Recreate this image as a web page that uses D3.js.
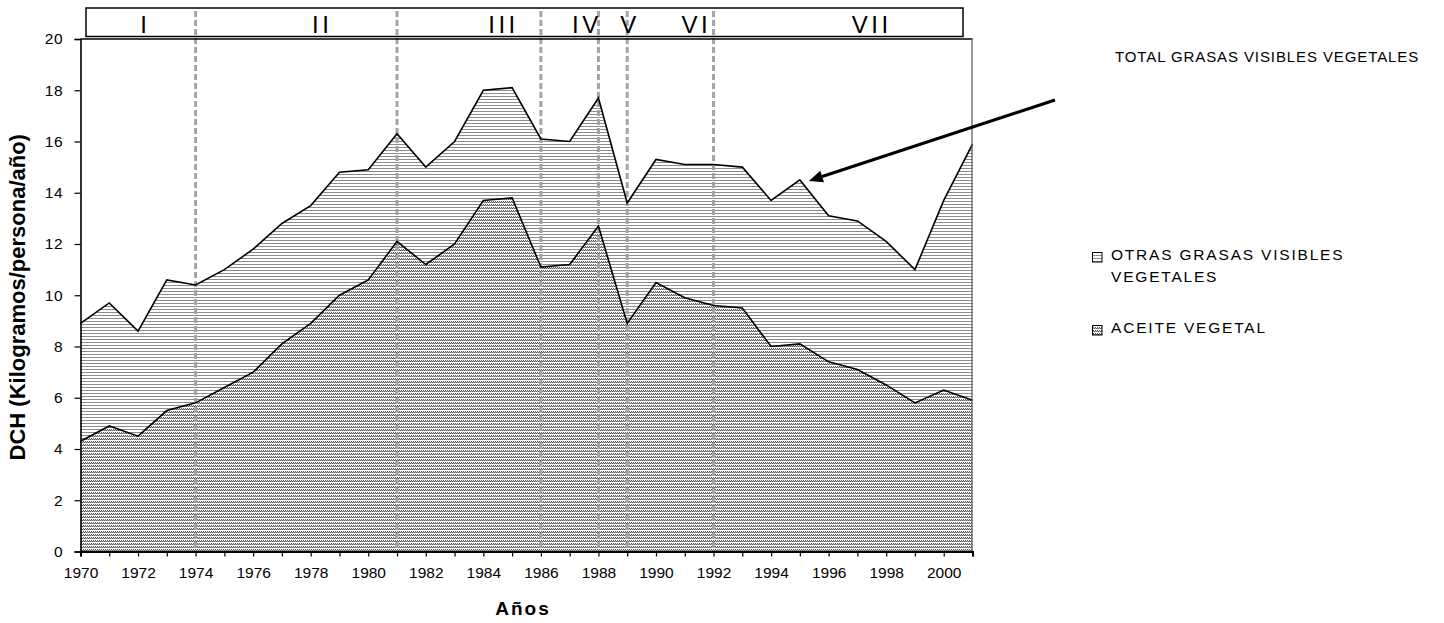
<!DOCTYPE html>
<html>
<head>
<meta charset="utf-8">
<script src="https://cdn.jsdelivr.net/npm/d3@7/dist/d3.min.js"></script>
<style>
  body { margin: 0; background: #fff; }
  svg { display: block; }
  text { font-family: "Liberation Sans", Arial, Helvetica, sans-serif; fill: #000; }
</style>
</head>
<body>
<svg id="chart" width="1444" height="623"></svg>
<script>
// Years covered by the series
const years = [1970, 1971, 1972, 1973, 1974, 1975, 1976, 1977, 1978, 1979,
               1980, 1981, 1982, 1983, 1984, 1985, 1986, 1987, 1988, 1989,
               1990, 1991, 1992, 1993, 1994, 1995, 1996, 1997, 1998, 1999,
               2000, 2001];

// Vegetable oil (kg/person/year)
const aceiteVegetal = [4.3, 4.9, 4.5, 5.5, 5.8, 6.4, 7.0, 8.1, 8.9, 10.0,
                       10.6, 12.1, 11.2, 12.0, 13.7, 13.8, 11.1, 11.2, 12.7, 8.9,
                       10.5, 9.9, 9.6, 9.5, 8.0, 8.1, 7.4, 7.1, 6.5, 5.8,
                       6.3, 5.9];

// Other visible vegetable fats (kg/person/year), stacked on top of the oil
const otrasGrasas = [4.6, 4.8, 4.1, 5.1, 4.6, 4.6, 4.8, 4.7, 4.6, 4.8,
                     4.3, 4.2, 3.8, 4.0, 4.3, 4.3, 5.0, 4.8, 5.0, 4.7,
                     4.8, 5.2, 5.5, 5.5, 5.7, 6.4, 5.7, 5.8, 5.6, 5.2,
                     7.4, 10.0];

// Period boundaries and period names
const periodBreaks = [1974, 1981, 1986, 1988, 1989, 1992];
const periodNames = ["I", "II", "III", "IV", "V", "VI", "VII"];
const periodNamePos = [1972.25, 1978.4, 1984.7, 1987.6, 1989.1, 1991.4, 1997.5];

// Axis ticks
const yTicks = [0, 2, 4, 6, 8, 10, 12, 14, 16, 18, 20];
const xLabelYears = [1970, 1972, 1974, 1976, 1978, 1980, 1982, 1984, 1986, 1988,
                     1990, 1992, 1994, 1996, 1998, 2000];

const seriesKeys = ["aceite", "otras"];
const seriesNames = { aceite: "ACEITE VEGETAL", otras: ["OTRAS GRASAS VISIBLES", "VEGETALES"] };
const totalLabel = "TOTAL GRASAS VISIBLES VEGETALES";
const annotatedYear = 1995;

// ---- layout ----
const plot = { left: 80.5, right: 972.5, top: 39, bottom: 551.5 };

const svg = d3.select("#chart");

const x = d3.scaleLinear().domain([1970, 2001]).range([plot.left, plot.right]);
const y = d3.scaleLinear().domain([0, 20]).range([plot.bottom, plot.top]);

const table = years.map((yr, i) => ({ year: yr, aceite: aceiteVegetal[i], otras: otrasGrasas[i] }));
const stacked = d3.stack().keys(seriesKeys)(table);

// ---- fill patterns ----
const defs = svg.append("defs");

// thin horizontal rules
const pHoriz = defs.append("pattern")
  .attr("id", "pat-otras").attr("patternUnits", "userSpaceOnUse")
  .attr("width", 4).attr("height", 3);
pHoriz.append("rect").attr("width", 4).attr("height", 3).attr("fill", "#fff");
pHoriz.append("rect").attr("y", 0).attr("width", 4).attr("height", 1).attr("fill", "#8c8c8c");

// rows of small upward slashes
const pDiag = defs.append("pattern")
  .attr("id", "pat-aceite").attr("patternUnits", "userSpaceOnUse")
  .attr("width", 2).attr("height", 3);
pDiag.append("rect").attr("width", 2).attr("height", 3).attr("fill", "#fff");
[[1, 0, "#5a5a5a"], [0, 1, "#5a5a5a"], [1, 1, "#a8a8a8"]].forEach(([px, py, c]) =>
  pDiag.append("rect").attr("x", px).attr("y", py).attr("width", 1).attr("height", 1)
    .attr("fill", c).attr("shape-rendering", "crispEdges"));

const fills = { aceite: "url(#pat-aceite)", otras: "url(#pat-otras)" };

// ---- stacked areas ----
const area = d3.area()
  .x(d => x(d.data.year))
  .y0(d => y(d[0]))
  .y1(d => y(d[1]));

svg.append("g").selectAll("path")
  .data(stacked)
  .join("path")
  .attr("d", area)
  .attr("fill", d => fills[d.key]);

// ---- period separators ----
const boxTop = 8, boxBottom = 36.5;
svg.append("g").selectAll("line")
  .data(periodBreaks)
  .join("line")
  .attr("x1", d => x(d)).attr("x2", d => x(d))
  .attr("y1", boxTop + 3).attr("y2", plot.bottom)
  .attr("stroke", "#a3a3a3")
  .attr("stroke-width", 3)
  .attr("stroke-dasharray", "6,3");

// ---- outlines of each stacked layer ----
const topLine = d3.line().x(d => x(d.data.year)).y(d => y(d[1]));
svg.append("g").selectAll("path")
  .data(stacked)
  .join("path")
  .attr("d", topLine)
  .attr("fill", "none")
  .attr("stroke", "#000")
  .attr("stroke-width", 1.6)
  .attr("stroke-linejoin", "miter");

// ---- plot frame (top and right) ----
svg.append("line")
  .attr("x1", plot.left).attr("x2", plot.right)
  .attr("y1", plot.top).attr("y2", plot.top)
  .attr("stroke", "#000").attr("stroke-width", 1.5);
svg.append("line")
  .attr("x1", plot.right - 0.5).attr("x2", plot.right - 0.5)
  .attr("y1", plot.top).attr("y2", plot.bottom)
  .attr("stroke", "#555").attr("stroke-width", 1.2);

// ---- period name box ----
svg.append("rect")
  .attr("x", 86).attr("y", boxTop)
  .attr("width", 877).attr("height", boxBottom - boxTop)
  .attr("fill", "none").attr("stroke", "#000").attr("stroke-width", 1.5);

svg.append("g").selectAll("text")
  .data(periodNames)
  .join("text")
  .attr("x", (d, i) => x(periodNamePos[i]))
  .attr("y", 33)
  .attr("text-anchor", "middle")
  .attr("font-size", 24)
  .attr("letter-spacing", 3.5)
  .text(d => d);

// ---- axes ----
const yAxis = d3.axisLeft(y).tickValues(yTicks).tickSize(6).tickPadding(11);
const gy = svg.append("g").attr("transform", `translate(${plot.left},0)`).call(yAxis);
gy.select(".domain").attr("stroke", "#000").attr("stroke-width", 1.6);
gy.selectAll(".tick line").attr("stroke", "#000").attr("stroke-width", 1.2);
gy.selectAll(".tick text").attr("font-size", 15.5).attr("letter-spacing", 0.8)
  .style("font-family", "'Liberation Sans', Arial, sans-serif");

const xAxis = d3.axisBottom(x)
  .tickValues(years)
  .tickSize(5).tickPadding(10)
  .tickFormat(d => xLabelYears.includes(d) ? String(d) : "");
const gx = svg.append("g").attr("transform", `translate(0,${plot.bottom})`).call(xAxis);
gx.select(".domain").attr("stroke", "#000").attr("stroke-width", 2);
gx.selectAll(".tick line").attr("stroke", "#000").attr("stroke-width", 1.2);
gx.selectAll(".tick text").attr("font-size", 15.5)
  .style("font-family", "'Liberation Sans', Arial, sans-serif");

// ---- axis titles ----
svg.append("text")
  .attr("transform", `translate(25,${(plot.top + plot.bottom) / 2 + 2}) rotate(-90)`)
  .attr("text-anchor", "middle")
  .attr("font-size", 22)
  .attr("font-weight", "bold")
  .text("DCH (Kilogramos/persona/año)");

svg.append("text")
  .attr("x", 523).attr("y", 615)
  .attr("text-anchor", "middle")
  .attr("font-size", 19)
  .attr("font-weight", "bold")
  .attr("letter-spacing", 2)
  .text("Años");

// ---- total annotation with arrow ----
const iAnn = years.indexOf(annotatedYear);
const tipX = x(annotatedYear) + 9;
const tipY = y(aceiteVegetal[iAnn] + otrasGrasas[iAnn]) + 1;
const tailX = 1055, tailY = 100;
const ang = Math.atan2(tipY - tailY, tipX - tailX);
const headLen = 14, headHalf = 6;
const baseX = tipX - headLen * Math.cos(ang), baseY = tipY - headLen * Math.sin(ang);
svg.append("line")
  .attr("x1", tailX).attr("y1", tailY)
  .attr("x2", baseX).attr("y2", baseY)
  .attr("stroke", "#000").attr("stroke-width", 3.2);
svg.append("path")
  .attr("d", `M${tipX},${tipY}
              L${baseX + headHalf * Math.sin(ang)},${baseY - headHalf * Math.cos(ang)}
              L${baseX - headHalf * Math.sin(ang)},${baseY + headHalf * Math.cos(ang)}Z`)
  .attr("fill", "#000");

svg.append("text")
  .attr("x", 1115).attr("y", 62)
  .attr("font-size", 15)
  .attr("letter-spacing", 0.9)
  .text(totalLabel);

// ---- legend ----
const legend = svg.append("g").attr("transform", "translate(1092,0)");
const legendRows = [
  { key: "otras", y: 252, lines: seriesNames.otras },
  { key: "aceite", y: 325, lines: [seriesNames.aceite] }
];
legendRows.forEach(r => {
  legend.append("rect")
    .attr("x", 0.5).attr("y", r.y + 0.5)
    .attr("width", 9.5).attr("height", 9.5)
    .attr("fill", fills[r.key]).attr("stroke", "#000").attr("stroke-width", 1);
  r.lines.forEach((ln, j) => {
    legend.append("text")
      .attr("x", 19)
      .attr("y", r.y + 8 + j * 22.4)
      .attr("font-size", 15.5)
      .attr("letter-spacing", 1.8)
      .text(ln);
  });
});
</script>
</body>
</html>
